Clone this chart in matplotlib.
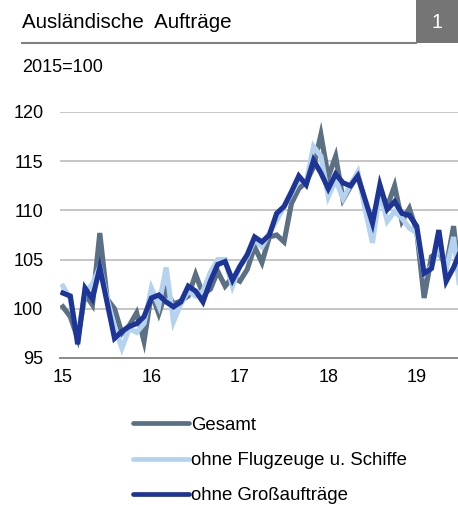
import numpy as np
import matplotlib
matplotlib.use("Agg")
import matplotlib.pyplot as plt
from matplotlib.patches import Rectangle
from matplotlib.lines import Line2D

plt.rcParams['font.family'] = ['Liberation Sans', 'DejaVu Sans']

# monthly index values, Jan 2015 onwards (last point runs off the right edge)
gesamt = [100.2, 99.2, 97.0, 101.5, 100.4, 107.7, 101.0, 100.0, 97.5, 98.3, 99.6, 96.7,
          101.6, 99.5, 101.8, 100.5, 100.8, 101.3, 103.5, 101.5, 102.0, 103.8, 102.3, 103.2,
          102.8, 104.0, 106.3, 104.7, 107.3, 107.5, 106.8, 110.7, 112.2, 112.9, 114.4, 117.7,
          113.4, 115.5, 111.1, 112.4, 113.6, 110.8, 108.4, 112.1, 110.4, 112.5, 108.9, 110.2,
          107.9, 101.1, 105.3, 105.8, 104.3, 108.4, 102.0]
ohne_flug = [102.3, 101.0, 97.0, 101.7, 102.5, 104.3, 101.0, 98.2, 96.0, 98.0, 97.6, 98.5,
             102.1, 100.3, 104.2, 98.7, 100.5, 101.8, 101.3, 101.8, 103.7, 105.0, 105.0, 102.3,
             104.3, 105.3, 107.0, 106.3, 107.7, 109.0, 110.4, 111.7, 113.1, 112.8, 116.5, 115.5,
             111.4, 113.1, 111.2, 112.6, 113.9, 110.1, 106.7, 111.9, 108.9, 109.9, 109.2, 108.2,
             107.7, 103.6, 104.3, 106.3, 104.0, 107.3, 101.0]
ohne_gross = [101.6, 101.3, 96.4, 102.1, 101.0, 104.2, 100.6, 97.0, 97.7, 98.2, 98.5, 99.2,
              101.1, 101.4, 100.7, 100.2, 100.7, 102.3, 101.8, 100.7, 102.8, 104.5, 104.8, 102.9,
              104.3, 105.5, 107.3, 106.8, 107.5, 109.7, 110.4, 111.9, 113.5, 112.6, 115.1, 113.8,
              112.2, 113.7, 112.8, 112.5, 113.5, 111.1, 108.7, 112.6, 110.1, 110.9, 109.7, 109.5,
              108.4, 103.6, 104.1, 108.0, 102.8, 104.2, 106.0]
year_labels = ["15", "16", "17", "18", "19"]
y_ticks = [95, 100, 105, 110, 115, 120]

c_gesamt = "#5c7083"
c_flug = "#b5d3ef"
c_gross = "#1c3596"

fig = plt.figure(figsize=(4.58, 5.05), dpi=100)
W, H = 458.0, 505.0

ax = fig.add_axes([60 / W, 1 - 358 / H, 1 - 60 / W, (358 - 112) / H])
x = np.arange(len(gesamt))
lw = 3.7
ax.plot(x, gesamt, color=c_gesamt, lw=lw, solid_joinstyle='miter')
ax.plot(x, ohne_flug, color=c_flug, lw=lw, solid_joinstyle='miter')
ax.plot(x, ohne_gross, color=c_gross, lw=lw, solid_joinstyle='miter')

ax.set_xlim(-0.4, 53.6)
ax.set_ylim(95, 120)
ax.set_yticks(y_ticks)
ax.set_yticklabels([str(v) for v in y_ticks])
ax.set_xticks(np.arange(len(year_labels)) * 12)
ax.set_xticklabels(year_labels)
ax.tick_params(axis='both', length=0, labelsize=13, colors='black')
ax.tick_params(axis='y', pad=12)
ax.tick_params(axis='x', pad=8)
for t in y_ticks[1:]:
    ax.axhline(t, color='#c0c0c0', lw=1.3, zorder=0)
for s in ['top', 'right', 'left']:
    ax.spines[s].set_visible(False)
ax.spines['bottom'].set_color('#808080')
ax.spines['bottom'].set_linewidth(1.3)

# header
fig.text(22 / W, 1 - 22 / H, "Ausländische  Aufträge", fontsize=14.8, va='center', ha='left')
fig.add_artist(Line2D([22 / W, 416 / W], [1 - 43 / H, 1 - 43 / H], color='#808080', lw=1.5))
fig.add_artist(Rectangle((416 / W, 1 - 43 / H), 42 / W, 43 / H, color='#757575', lw=0))
fig.text(437 / W, 1 - 22 / H, "1", fontsize=14.2, color='white', va='center', ha='center')
fig.text(22 / W, 1 - 67 / H, "2015=100", fontsize=13, va='center', ha='left')

handles = [Line2D([], [], color=c, lw=3.4, solid_capstyle='round') for c in (c_gesamt, c_flug, c_gross)]
fig.legend(handles, ["Gesamt", "ohne Flugzeuge u. Schiffe", "ohne Großaufträge"],
           loc='upper left', bbox_to_anchor=(116 / W, 1 - 400 / H), frameon=False,
           fontsize=13.4, handlelength=3.0, handletextpad=0.15, labelspacing=0.98)

fig.savefig("out.png", dpi=100)
